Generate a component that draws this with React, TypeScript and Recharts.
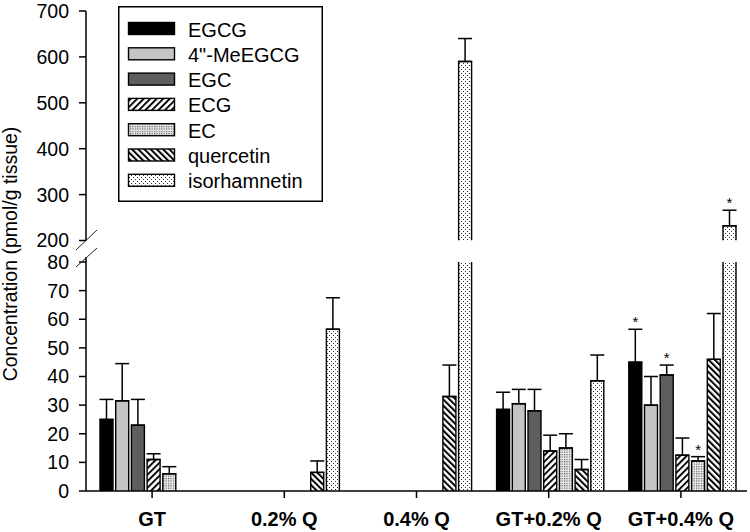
import React from 'react';
import { BarChart, Bar, XAxis, YAxis, ErrorBar, Legend, LabelList } from 'recharts';

const FONT = '"Liberation Sans", Arial, Helvetica, sans-serif';

const categories = ['GT', '0.2% Q', '0.4% Q', 'GT+0.2% Q', 'GT+0.4% Q'];

const egcg = [25, 0, 0, 28.5, 45];
const egcgErr = [7, 0, 0, 6, 11.5];
const meEgcg = [31.5, 0, 0, 30.5, 30];
const meEgcgErr = [13, 0, 0, 5, 10];
const egc = [23, 0, 0, 28, 40.5];
const egcErr = [9, 0, 0, 7.5, 3.5];
const ecg = [11, 0, 0, 14, 12.5];
const ecgErr = [2, 0, 0, 5.5, 6];
const ec = [6, 0, 0, 15, 10.5];
const ecErr = [2.5, 0, 0, 5, 1.5];
const quercetin = [0, 6.5, 33, 7.5, 46];
const quercetinErr = [0, 4, 11, 3.5, 16];
const isorhamnetin = [0, 56.5, 590, 38.5, 232];
const isorhamnetinErr = [0, 11, 50, 9, 34];

const egcgSig = [false, false, false, false, true];
const meEgcgSig = [false, false, false, false, false];
const egcSig = [false, false, false, false, true];
const ecgSig = [false, false, false, false, false];
const ecSig = [false, false, false, false, true];
const quercetinSig = [false, false, false, false, false];
const isorhamnetinSig = [false, false, false, false, true];

const upperTicks = [200, 300, 400, 500, 600, 700];
const lowerTicks = [0, 10, 20, 30, 40, 50, 60, 70, 80];
const lowerMax = 80;
const upperMin = 200;
const upperMax = 700;

const series = [
  { key: 's0', name: 'EGCG', values: egcg, errors: egcgErr, sig: egcgSig, fill: () => '#000000' },
  { key: 's1', name: '4"-MeEGCG', values: meEgcg, errors: meEgcgErr, sig: meEgcgSig, fill: () => '#c4c4c4' },
  { key: 's2', name: 'EGC', values: egc, errors: egcErr, sig: egcSig, fill: () => '#5e5e5e' },
  { key: 's3', name: 'ECG', values: ecg, errors: ecgErr, sig: ecgSig, fill: (p: string) => `url(#${p}-ecg)` },
  { key: 's4', name: 'EC', values: ec, errors: ecErr, sig: ecSig, fill: (p: string) => `url(#${p}-ec)` },
  { key: 's5', name: 'quercetin', values: quercetin, errors: quercetinErr, sig: quercetinSig, fill: (p: string) => `url(#${p}-q)` },
  { key: 's6', name: 'isorhamnetin', values: isorhamnetin, errors: isorhamnetinErr, sig: isorhamnetinSig, fill: (p: string) => `url(#${p}-iso)` },
];

const rows = categories.map((c, i) => {
  const r: any = { category: c };
  series.forEach((s) => {
    const v = s.values[i];
    const e = s.errors[i];
    r[s.key + '_lo'] = v;
    r[s.key + '_up'] = v > lowerMax ? v : null;
    r[s.key + '_le'] = e > 0 && v <= lowerMax ? [0, e] : null;
    r[s.key + '_ue'] = e > 0 && v > lowerMax ? [0, e] : null;
    r[s.key + '_ls'] = s.sig[i] && v <= lowerMax ? [v, e] : null;
    r[s.key + '_us'] = s.sig[i] && v > lowerMax ? [v, e] : null;
  });
  return r;
});

const Patterns = ({ prefix }: { prefix: string }) => (
  <defs>
    <pattern id={`${prefix}-ecg`} width={4.6} height={4.6} patternUnits="userSpaceOnUse" patternTransform="rotate(45)">
      <rect width={4.6} height={4.6} fill="#ffffff" />
      <line x1={1} y1={0} x2={1} y2={4.6} stroke="#000" strokeWidth={1.9} />
    </pattern>
    <pattern id={`${prefix}-q`} width={4.4} height={4.4} patternUnits="userSpaceOnUse" patternTransform="rotate(-45)">
      <rect width={4.4} height={4.4} fill="#ffffff" />
      <line x1={1} y1={0} x2={1} y2={4.4} stroke="#000" strokeWidth={2} />
    </pattern>
    <pattern id={`${prefix}-ec`} width={2.4} height={2.4} patternUnits="userSpaceOnUse">
      <rect width={2.4} height={2.4} fill="#ededed" />
      <rect width={1.2} height={1.2} fill="#5a5a5a" />
    </pattern>
    <pattern id={`${prefix}-iso`} width={4} height={4} patternUnits="userSpaceOnUse">
      <rect width={4} height={4} fill="#ffffff" />
      <rect x={1} y={1} width={1} height={1} fill="#333" />
      <rect x={3} y={3} width={1} height={1} fill="#333" />
    </pattern>
  </defs>
);

const OpenBar = (props: any) => {
  const { x, y, width, height, fill } = props;
  if (x == null || y == null || !height || Math.abs(height) < 0.5) return null;
  const top = Math.min(y, y + height);
  const h = Math.abs(height);
  return (
    <g>
      <rect x={x} y={top} width={width} height={h} fill={fill} />
      <path
        d={`M${x},${top + h} L${x},${top} L${x + width},${top} L${x + width},${top + h}`}
        fill="none"
        stroke="#000"
        strokeWidth={1.4}
      />
    </g>
  );
};

const makeStar = (base: number) => (props: any) => {
  const { value } = props;
  if (!Array.isArray(value)) return null;
  const [barVal, err] = value;
  const vb = props.viewBox || props;
  const { x, y, width, height } = vb;
  if (x == null || y == null || !height) return null;
  if (barVal - base <= 0) return null;
  const top = Math.min(y, y + height);
  const k = Math.abs(height) / (barVal - base);
  const capY = top - err * k;
  return (
    <text x={x + width / 2} y={capY - 2} textAnchor="middle" fontSize={15} fontFamily={FONT} fill="#000">
      *
    </text>
  );
};

const LegendBox = () => (
  <svg width={206} height={197} style={{ display: 'block' }}>
    <Patterns prefix="lg" />
    <rect x={0.75} y={0.75} width={203.5} height={194.5} fill="#ffffff" stroke="#000" strokeWidth={1.5} />
    {series.map((s, i) => {
      const cy = 22.5 + i * 25.3;
      return (
        <g key={s.key}>
          <rect x={10.5} y={cy - 6} width={46} height={12} fill={s.fill('lg')} stroke="#000" strokeWidth={1.4} />
          <text x={70} y={cy + 8} fontSize={20} fontFamily={FONT} fill="#000">
            {s.name}
          </text>
        </g>
      );
    })}
  </svg>
);

const axisLine = { stroke: '#000', strokeWidth: 1.5 };
const tickLine = { stroke: '#000', strokeWidth: 1.5 };

export default function App() {
  return (
    <div style={{ position: 'absolute', left: 0, top: 0, width: 750, height: 532, background: '#fff', overflow: 'hidden' }}>
      <div style={{ position: 'absolute', left: 0, top: 0 }}>
        <BarChart
          width={750}
          height={250}
          data={rows}
          margin={{ top: 11, right: 3, bottom: 9.5, left: 0 }}
          barCategoryGap={14}
          barGap={2.7}
        >
          <Patterns prefix="up" />
          <XAxis dataKey="category" hide />
          <YAxis
            type="number"
            domain={[upperMin, upperMax]}
            ticks={upperTicks}
            allowDataOverflow
            width={86}
            interval={0}
            axisLine={axisLine}
            tickLine={tickLine}
            tickSize={7}
            tickMargin={10}
            tick={{ fill: '#000', fontSize: 19.5, fontFamily: FONT }}
          />
          {series.map((s) => (
            <Bar key={s.key} dataKey={s.key + '_up'} name={s.name} fill={s.fill('up')} shape={<OpenBar />} isAnimationActive={false}>
              <ErrorBar dataKey={s.key + '_ue'} width={7} stroke="#000" strokeWidth={1.5} direction="y" isAnimationActive={false} />
              <LabelList dataKey={s.key + '_us'} content={makeStar(upperMin)} />
            </Bar>
          ))}
          <Legend
            layout="horizontal"
            verticalAlign="middle"
            align="center"
            content={() => <LegendBox />}
            wrapperStyle={{ position: 'absolute', left: 118, top: 6, width: 206, height: 197 }}
          />
        </BarChart>
      </div>
      <div style={{ position: 'absolute', left: 0, top: 250 }}>
        <BarChart
          width={750}
          height={282}
          data={rows}
          margin={{ top: 12, right: 3, bottom: 0, left: 0 }}
          barCategoryGap={14}
          barGap={2.7}
        >
          <Patterns prefix="lo" />
          <XAxis
            dataKey="category"
            height={41}
            interval={0}
            axisLine={axisLine}
            tickLine={tickLine}
            tickSize={7}
            tickMargin={14}
            tick={{ fill: '#000', fontSize: 20, fontWeight: 'bold', fontFamily: FONT }}
          />
          <YAxis
            type="number"
            domain={[0, lowerMax]}
            ticks={lowerTicks}
            allowDataOverflow
            width={86}
            interval={0}
            axisLine={axisLine}
            tickLine={tickLine}
            tickSize={7}
            tickMargin={10}
            tick={{ fill: '#000', fontSize: 19.5, fontFamily: FONT }}
          />
          {series.map((s) => (
            <Bar key={s.key} dataKey={s.key + '_lo'} name={s.name} fill={s.fill('lo')} shape={<OpenBar />} isAnimationActive={false}>
              <ErrorBar dataKey={s.key + '_le'} width={7} stroke="#000" strokeWidth={1.5} direction="y" isAnimationActive={false} />
              <LabelList dataKey={s.key + '_ls'} content={makeStar(0)} />
            </Bar>
          ))}
        </BarChart>
      </div>
      <svg width={750} height={532} style={{ position: 'absolute', left: 0, top: 0, pointerEvents: 'none' }}>
        <text
          x={17}
          y={254}
          transform="rotate(-90 17 254)"
          textAnchor="middle"
          fontSize={19.5}
          fontFamily={FONT}
          fill="#000"
        >
          Concentration (pmol/g tissue)
        </text>
        <line x1={86} y1={257} x2={86} y2={262} stroke="#000" strokeWidth={1.5} />
        <line x1={76} y1={250} x2={97} y2={230} stroke="#222" strokeWidth={1} />
        <line x1={76} y1={267} x2={97} y2={248} stroke="#222" strokeWidth={1} />
      </svg>
    </div>
  );
}
